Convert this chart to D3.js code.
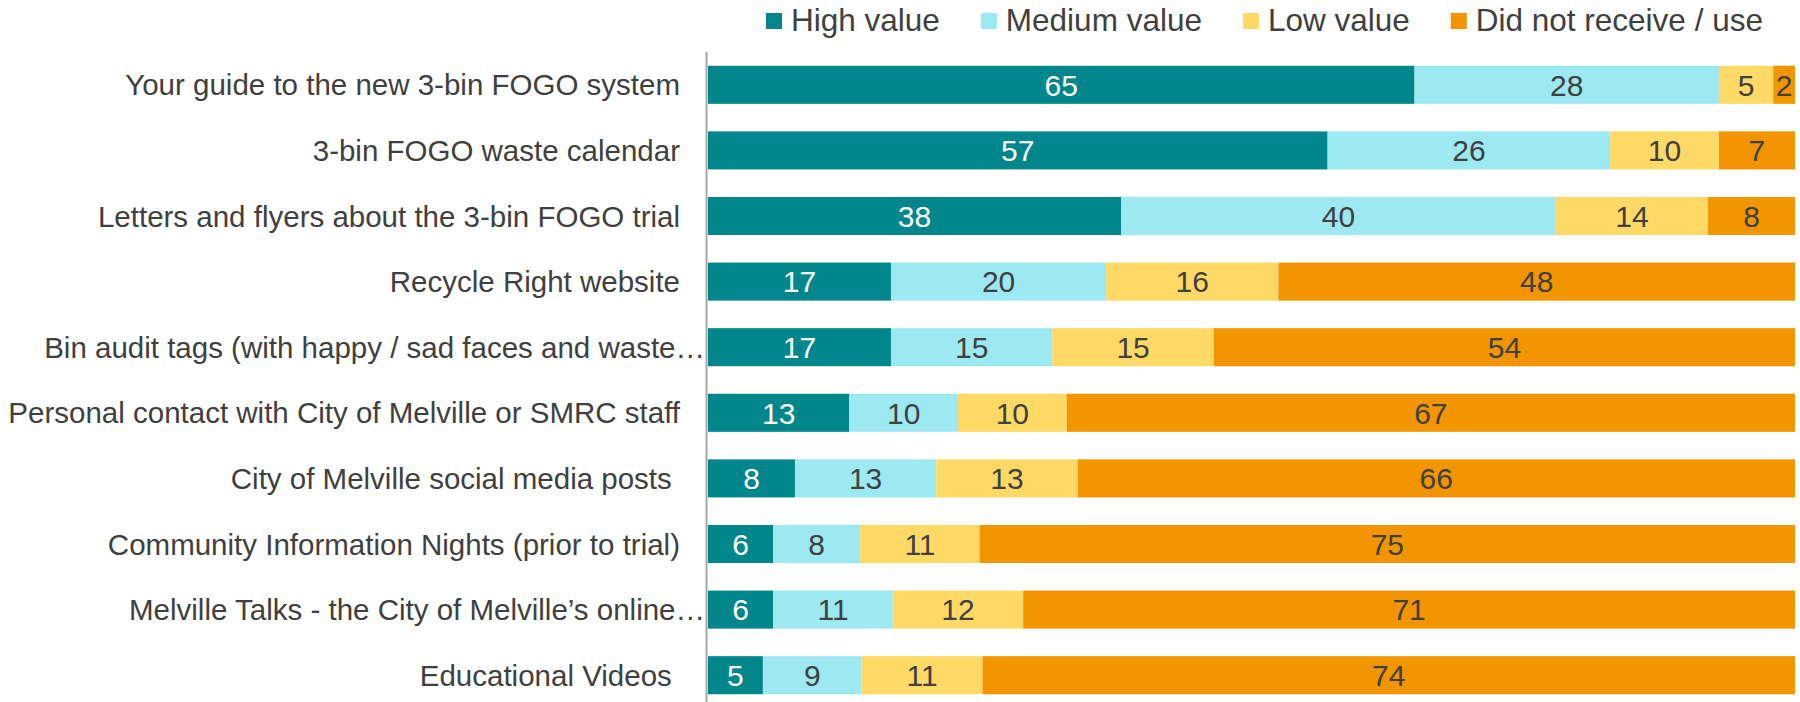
<!DOCTYPE html>
<html>
<head>
<meta charset="utf-8">
<script src="https://cdn.jsdelivr.net/npm/d3@7"></script>
<style>
  html, body { margin: 0; padding: 0; background: #fff; }
  svg { display: block; font-family: "Liberation Sans", Arial, sans-serif; }
</style>
</head>
<body>
<svg id="chart" width="1800" height="702"></svg>
<script>
// ---- data ----
const categories = [
  "Your guide to the new 3-bin FOGO system",
  "3-bin FOGO waste calendar",
  "Letters and flyers about the 3-bin FOGO trial",
  "Recycle Right website",
  "Bin audit tags (with happy / sad faces and waste…",
  "Personal contact with City of Melville or SMRC staff",
  "City of Melville social media posts ",
  "Community Information Nights (prior to trial)",
  "Melville Talks - the City of Melville’s online…",
  "Educational Videos "
];
const seriesNames = ["High value", "Medium value", "Low value", "Did not receive / use"];
const highValue   = [65, 57, 38, 17, 17, 13,  8,  6,  6,  5];
const mediumValue = [28, 26, 40, 20, 15, 10, 13,  8, 11,  9];
const lowValue    = [ 5, 10, 14, 16, 15, 10, 13, 11, 12, 11];
const didNotUse   = [ 2,  7,  8, 48, 54, 67, 66, 75, 71, 74];
const colors = ["#00868B", "#9CE9F1", "#FFD966", "#F39500"];
const labelColors = ["#ffffff", "#404040", "#404040", "#404040"];

// ---- build table ----
const series = [highValue, mediumValue, lowValue, didNotUse];
const rows = categories.map((c, i) => {
  const vals = series.map(s => s[i]);
  const total = d3.sum(vals);
  const r = { cat: c, total };
  seriesNames.forEach((k, j) => r[k] = vals[j] / total);
  return r;
});
const stacked = d3.stack().keys(seriesNames)(rows);

const svg = d3.select("#chart");
const x = d3.scaleLinear().domain([0, 1]).range([708, 1795]);
const y = d3.scaleBand().domain(categories).range([52, 708]).paddingInner(0.42).paddingOuter(0.21);

// bars
const g = svg.append("g");
stacked.forEach((layer, j) => {
  const lg = g.append("g");
  lg.selectAll("rect").data(layer).enter().append("rect")
    .attr("x", d => x(d[0]))
    .attr("y", d => y(d.data.cat))
    .attr("width", d => x(d[1]) - x(d[0]))
    .attr("height", y.bandwidth())
    .attr("fill", colors[j]);
  lg.selectAll("text").data(layer).enter().append("text")
    .attr("x", d => (x(d[0]) + x(d[1])) / 2)
    .attr("y", d => y(d.data.cat) + y.bandwidth() / 2)
    .attr("dy", "0.36em")
    .attr("text-anchor", "middle")
    .attr("font-size", "30px")
    .attr("fill", labelColors[j])
    .text((d, i) => series[j][i]);
});

// axis line
svg.append("line")
  .attr("x1", 706.5).attr("x2", 706.5)
  .attr("y1", 52).attr("y2", 708)
  .attr("stroke", "#A6A6A6").attr("stroke-width", 2);

// category labels
svg.append("g").selectAll("text").data(categories).enter().append("text")
  .attr("x", d => d.endsWith("…") ? 705 : 680)
  .attr("y", d => y(d) + y.bandwidth() / 2)
  .attr("dy", "0.36em")
  .attr("text-anchor", "end")
  .attr("font-size", "29.5px")
  .attr("fill", "#404040")
  .style("white-space", "pre")
  .text(d => d);

// legend
const leg = svg.append("g");
let lx = 766;
seriesNames.forEach((name, j) => {
  leg.append("rect").attr("x", lx).attr("y", 13).attr("width", 16).attr("height", 16).attr("fill", colors[j]);
  const t = leg.append("text").attr("x", lx + 25).attr("y", 30.5)
    .attr("font-size", "31.5px").attr("fill", "#404040").text(name);
  lx = lx + 25 + t.node().getComputedTextLength() + 41;
});
</script>
</body>
</html>
